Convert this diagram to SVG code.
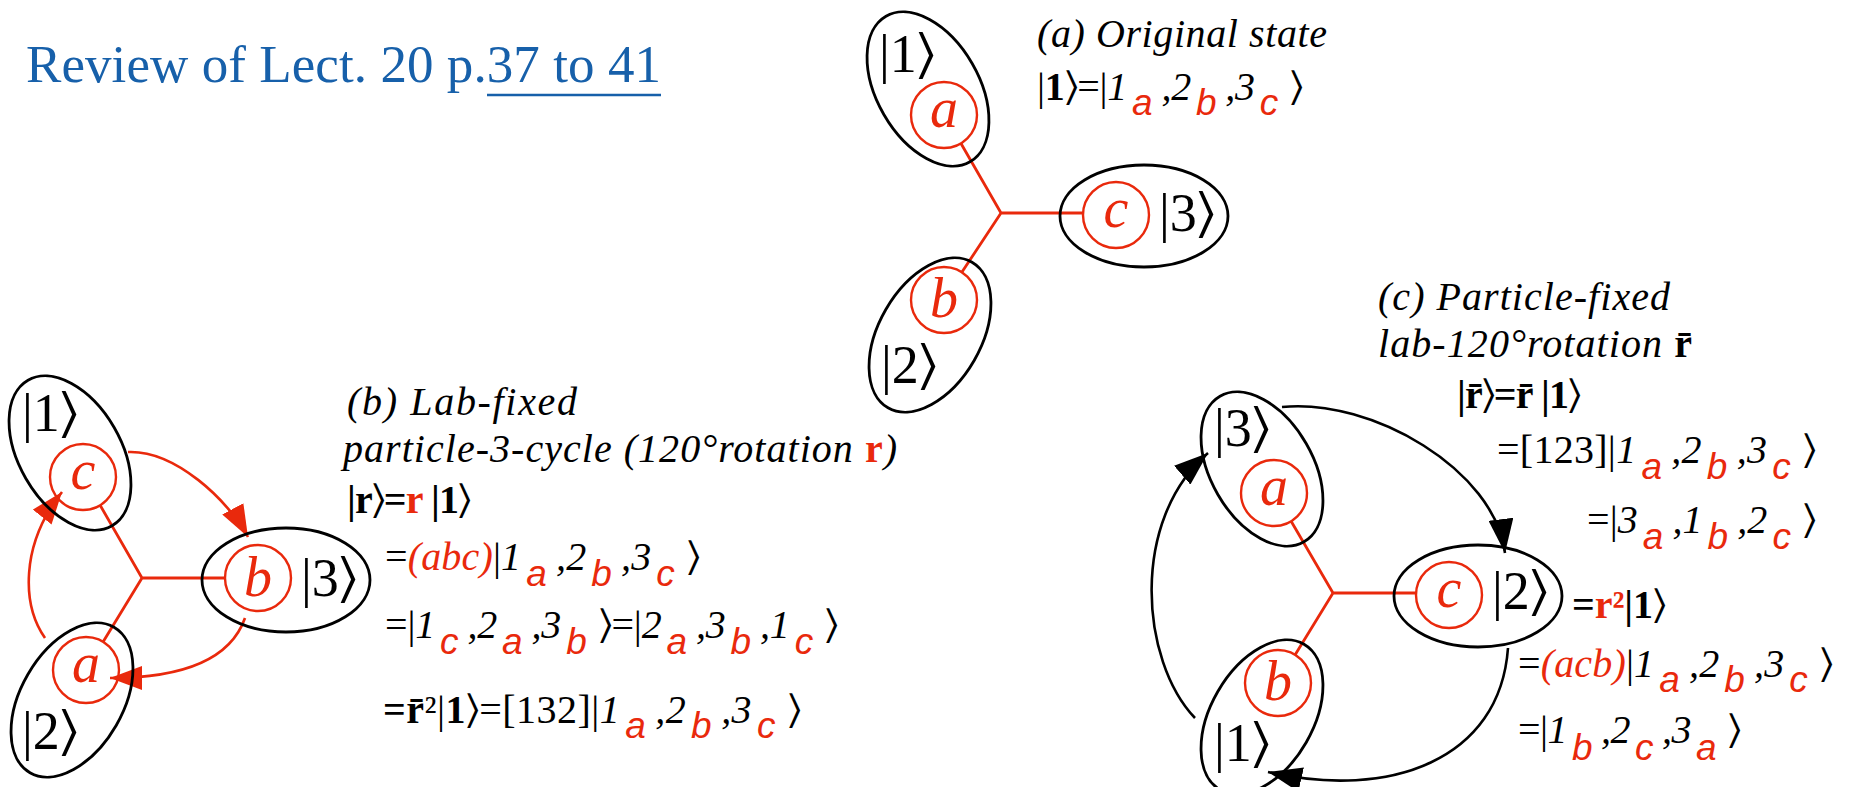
<svg xmlns="http://www.w3.org/2000/svg" width="1862" height="787" viewBox="0 0 1862 787">
<style>
text{font-family:"Liberation Serif","DejaVu Serif",serif}
.tx{font-size:40px;fill:#000}
.it{font-style:italic}
.bd{font-weight:bold}
.nb{font-weight:normal;font-style:normal}
.rd{fill:#E9290C}
.sb{font-family:"Liberation Sans","DejaVu Sans",sans-serif;font-style:italic;font-weight:normal;font-size:37px;fill:#E9290C}
.kt{font-size:54px;fill:#000}
.cl{font-size:56px;font-style:italic;fill:#E9290C;text-anchor:middle}
.el{fill:none;stroke:#000;stroke-width:2.8}
.ci{fill:none;stroke:#E9290C;stroke-width:2.4}
.yl{stroke:#E9290C;stroke-width:2.8;fill:none}
.ar{fill:none;stroke:#E9290C;stroke-width:2.6;marker-end:url(#mr)}
.ab{fill:none;stroke:#000;stroke-width:2.6;marker-end:url(#mb)}
</style>
<defs>
<marker id="mr" viewBox="0 0 32 24" refX="32" refY="12" markerWidth="32" markerHeight="24" markerUnits="userSpaceOnUse" orient="auto"><path d="M0,0 L32,12 L0,24 z" fill="#E9290C"/></marker>
<marker id="mb" viewBox="0 0 34 25" refX="34" refY="12.5" markerWidth="34" markerHeight="25" markerUnits="userSpaceOnUse" orient="auto"><path d="M0,0 L34,12.5 L0,25 z" fill="#000"/></marker>
</defs>
<rect width="1862" height="787" fill="#fff"/>

<g id="title">
<text x="26" y="82" font-size="53" fill="#1760AA" textLength="635" lengthAdjust="spacing">Review of Lect. 20 p.37 to 41</text>
<line x1="487" y1="95" x2="661" y2="95" stroke="#1760AA" stroke-width="2.5"/>
</g>

<g id="connectors">
<path class="yl" d="M1001,213 L961,143.5 M1001,213 L1084,213 M1001,213 L962,272"/>
<path class="yl" d="M142,578 L100,505 M142,578 L225,578 M142,578 L103,642"/>
<path class="yl" d="M1333,593 L1291,521 M1333,593 L1416,593 M1333,593 L1295,655"/>
<path class="ar" d="M128,452 C175,450 228,500 248,537"/>
<path class="ar" d="M245,618 C232,655 190,678 110,678"/>
<path class="ar" d="M45,638 C22,605 20,545 62,492"/>
<path class="ab" d="M1282,407 C1372,398 1495,470 1505,553"/>
<path class="ab" d="M1508,648 C1500,760 1390,800 1268,772"/>
<path class="ab" d="M1195,718 C1140,660 1130,520 1208,453"/>
</g>

<g id="a-state1"><ellipse class="el" cx="928" cy="89" rx="84" ry="51" transform="rotate(60 928 89)"/><text class="kt" x="879" y="72">|1&#x232A;</text></g>
<g id="a-state3"><ellipse class="el" cx="1144" cy="216" rx="84" ry="51"/><text class="kt" x="1159" y="231">|3&#x232A;</text></g>
<g id="a-state2"><ellipse class="el" cx="930" cy="335" rx="84" ry="51" transform="rotate(-60 930 335)"/><text class="kt" x="881" y="383">|2&#x232A;</text></g>
<g id="a-pa"><circle class="ci" cx="944" cy="115" r="33"/><text class="cl" x="944" y="127">a</text></g>
<g id="a-pc"><circle class="ci" cx="1116" cy="215" r="33"/><text class="cl" x="1116" y="227">c</text></g>
<g id="a-pb"><circle class="ci" cx="944" cy="300" r="33"/><text class="cl" x="944" y="317">b</text></g>

<g id="b-state1"><ellipse class="el" cx="70" cy="453" rx="84" ry="51" transform="rotate(60 70 453)"/><text class="kt" x="22" y="431">|1&#x232A;</text></g>
<g id="b-state3"><ellipse class="el" cx="286" cy="580" rx="84" ry="52"/><text class="kt" x="301" y="596">|3&#x232A;</text></g>
<g id="b-state2"><ellipse class="el" cx="72" cy="700" rx="84" ry="51" transform="rotate(-60 72 700)"/><text class="kt" x="22" y="749">|2&#x232A;</text></g>
<g id="b-pc"><circle class="ci" cx="83" cy="477" r="33"/><text class="cl" x="83" y="489">c</text></g>
<g id="b-pb"><circle class="ci" cx="258" cy="578" r="33"/><text class="cl" x="258" y="596">b</text></g>
<g id="b-pa"><circle class="ci" cx="86" cy="670" r="33"/><text class="cl" x="86" y="682">a</text></g>

<g id="c-state3"><ellipse class="el" cx="1262" cy="469" rx="84" ry="51" transform="rotate(60 1262 469)"/><text class="kt" x="1214" y="446">|3&#x232A;</text></g>
<g id="c-state2"><ellipse class="el" cx="1478" cy="596" rx="84" ry="51"/><text class="kt" x="1492" y="609">|2&#x232A;</text></g>
<g id="c-state1"><ellipse class="el" cx="1262" cy="717" rx="84" ry="51" transform="rotate(-60 1262 717)"/><text class="kt" x="1214" y="761">|1&#x232A;</text></g>
<g id="c-pa"><circle class="ci" cx="1274" cy="493" r="33"/><text class="cl" x="1274" y="505">a</text></g>
<g id="c-pc"><circle class="ci" cx="1449" cy="595" r="33"/><text class="cl" x="1449" y="607">c</text></g>
<g id="c-pb"><circle class="ci" cx="1278" cy="683" r="33"/><text class="cl" x="1278" y="700">b</text></g>

<g id="a-text">
<text class="tx it" x="1037" y="47" textLength="290" lengthAdjust="spacing">(a) Original state</text>
<text class="tx" x="1037" y="100" textLength="266" lengthAdjust="spacing">|<tspan class="bd">1</tspan>&#x232A;=|<tspan class="it">1</tspan><tspan class="sb" dx="5" dy="15">a</tspan><tspan class="it" dx="9" dy="-15">,2</tspan><tspan class="sb" dx="5" dy="15">b</tspan><tspan class="it" dx="9" dy="-15">,3</tspan><tspan class="sb" dx="5" dy="15">c</tspan><tspan dx="12" dy="-15">&#x232A;</tspan></text>
</g>

<g id="b-text">
<text class="tx it" x="347" y="415" textLength="230" lengthAdjust="spacing">(b) Lab-fixed</text>
<text class="tx it" x="343" y="462" textLength="554" lengthAdjust="spacing">particle-3-cycle (120°rotation <tspan class="bd rd" font-style="normal">r</tspan>)</text>
<text class="tx bd" x="347" y="513" textLength="124" lengthAdjust="spacing">|r<tspan class="nb">&#x232A;</tspan>=<tspan class="rd">r</tspan> |1<tspan class="nb">&#x232A;</tspan></text>
<text class="tx" x="385" y="570" textLength="315" lengthAdjust="spacing">=<tspan class="it rd">(abc)</tspan>|<tspan class="it">1</tspan><tspan class="sb" dx="5" dy="16">a</tspan><tspan class="it" dx="9" dy="-16">,2</tspan><tspan class="sb" dx="5" dy="16">b</tspan><tspan class="it" dx="9" dy="-16">,3</tspan><tspan class="sb" dx="5" dy="16">c</tspan><tspan dx="12" dy="-16">&#x232A;</tspan></text>
<text class="tx" x="385" y="638" textLength="453" lengthAdjust="spacing">=|<tspan class="it">1</tspan><tspan class="sb" dx="5" dy="16">c</tspan><tspan class="it" dx="9" dy="-16">,2</tspan><tspan class="sb" dx="5" dy="16">a</tspan><tspan class="it" dx="9" dy="-16">,3</tspan><tspan class="sb" dx="5" dy="16">b</tspan><tspan dx="12" dy="-16">&#x232A;=|</tspan><tspan class="it">2</tspan><tspan class="sb" dx="5" dy="16">a</tspan><tspan class="it" dx="9" dy="-16">,3</tspan><tspan class="sb" dx="5" dy="16">b</tspan><tspan class="it" dx="9" dy="-16">,1</tspan><tspan class="sb" dx="5" dy="16">c</tspan><tspan dx="12" dy="-16">&#x232A;</tspan></text>
<text class="tx" x="383" y="723" textLength="418" lengthAdjust="spacing"><tspan class="bd">=r&#x304;</tspan>²|<tspan class="bd">1</tspan>&#x232A;=[132]|<tspan class="it">1</tspan><tspan class="sb" dx="5" dy="15">a</tspan><tspan class="it" dx="9" dy="-15">,2</tspan><tspan class="sb" dx="5" dy="15">b</tspan><tspan class="it" dx="9" dy="-15">,3</tspan><tspan class="sb" dx="5" dy="15">c</tspan><tspan dx="12" dy="-15">&#x232A;</tspan></text>
</g>

<g id="c-text">
<text class="tx it" x="1378" y="310" textLength="292" lengthAdjust="spacing">(c) Particle-fixed</text>
<text class="tx it" x="1378" y="357" textLength="314" lengthAdjust="spacing">lab-120°rotation <tspan class="bd" font-style="normal">r&#x304;</tspan></text>
<text class="tx bd" x="1457" y="408" textLength="124" lengthAdjust="spacing">|r&#x304;<tspan class="nb">&#x232A;</tspan>=r&#x304; |1<tspan class="nb">&#x232A;</tspan></text>
<text class="tx" x="1497" y="463" textLength="319" lengthAdjust="spacing">=[123]|<tspan class="it">1</tspan><tspan class="sb" dx="5" dy="16">a</tspan><tspan class="it" dx="9" dy="-16">,2</tspan><tspan class="sb" dx="5" dy="16">b</tspan><tspan class="it" dx="9" dy="-16">,3</tspan><tspan class="sb" dx="5" dy="16">c</tspan><tspan dx="12" dy="-16">&#x232A;</tspan></text>
<text class="tx" x="1587" y="533" textLength="229" lengthAdjust="spacing">=|<tspan class="it">3</tspan><tspan class="sb" dx="5" dy="16">a</tspan><tspan class="it" dx="9" dy="-16">,1</tspan><tspan class="sb" dx="5" dy="16">b</tspan><tspan class="it" dx="9" dy="-16">,2</tspan><tspan class="sb" dx="5" dy="16">c</tspan><tspan dx="12" dy="-16">&#x232A;</tspan></text>
<text class="tx bd" x="1572" y="618" textLength="94" lengthAdjust="spacing">=<tspan class="rd">r²</tspan>|1<tspan class="nb">&#x232A;</tspan></text>
<text class="tx" x="1518" y="677" textLength="315" lengthAdjust="spacing">=<tspan class="it rd">(acb)</tspan>|<tspan class="it">1</tspan><tspan class="sb" dx="5" dy="15">a</tspan><tspan class="it" dx="9" dy="-15">,2</tspan><tspan class="sb" dx="5" dy="15">b</tspan><tspan class="it" dx="9" dy="-15">,3</tspan><tspan class="sb" dx="5" dy="15">c</tspan><tspan dx="12" dy="-15">&#x232A;</tspan></text>
<text class="tx" x="1518" y="743" textLength="223" lengthAdjust="spacing">=|<tspan class="it">1</tspan><tspan class="sb" dx="5" dy="17">b</tspan><tspan class="it" dx="9" dy="-17">,2</tspan><tspan class="sb" dx="5" dy="17">c</tspan><tspan class="it" dx="9" dy="-17">,3</tspan><tspan class="sb" dx="5" dy="17">a</tspan><tspan dx="12" dy="-17">&#x232A;</tspan></text>
</g>
</svg>
